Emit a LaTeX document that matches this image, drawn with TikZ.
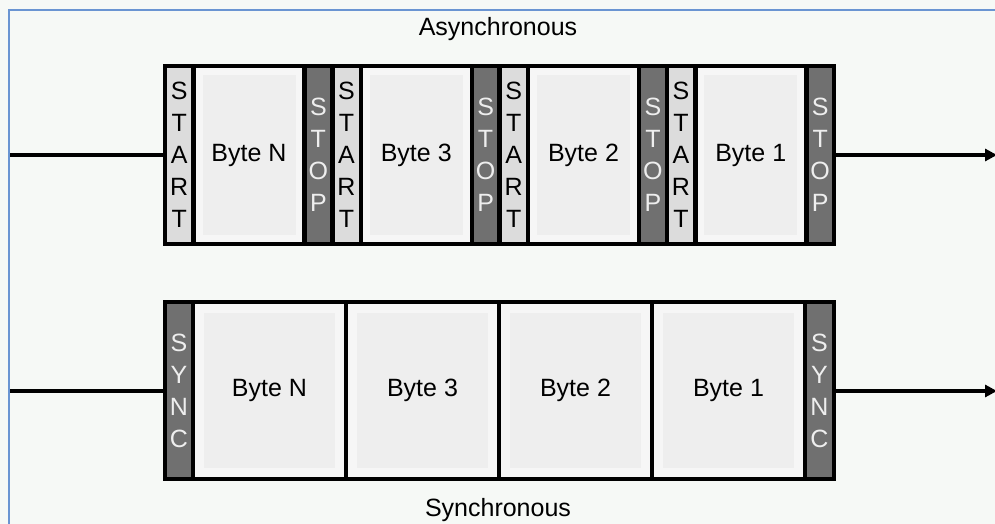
\documentclass[tikz,border=0pt]{standalone}
\usepackage{fontspec}
\setmainfont{Liberation Sans}
\usetikzlibrary{arrows.meta}
\definecolor{bgc}{HTML}{F6F9F6}
\definecolor{framec}{HTML}{6A95D2}
\definecolor{lightc}{HTML}{DCDCDC}
\definecolor{darkc}{HTML}{707070}
\definecolor{bytec}{HTML}{F6F6F6}
\definecolor{innerc}{HTML}{EEEEEE}
\definecolor{darktext}{HTML}{EEEEEE}
\tikzset{
  cell/.style={rectangle, draw=black, line width=4.5pt, inner sep=0pt, outer sep=0pt, align=center},
  lightcell/.style={cell, fill=lightc, text=black, font=\fontsize{25}{32}\selectfont},
  darkcell/.style={cell, fill=darkc, text=darktext, font=\fontsize{25}{32}\selectfont},
  bytecell/.style={cell, fill=bytec, text=black, font=\fontsize{25}{30}\selectfont},
  innerpanel/.style={fill=innerc},
  wire/.style={line width=4pt, draw=black},
  title/.style={font=\fontsize{25}{30}\selectfont, text=black, inner sep=0pt}
}
\begin{document}
\begin{tikzpicture}[x=1pt,y=-1pt]
\useasboundingbox (0,0) rectangle (995,524);
\fill[bgc] (0,0) rectangle (995,524);
\draw[framec, line width=2pt] (9,524) -- (9,10) -- (995,10);

\node[title] (asyn) at (498,29) {Asynchronous};
\node[title, anchor=base] (syn) at (498,516) {Synchronous};

% Asynchronous frame
\foreach \g/\lbl/\i in {165/N/1, 332.25/3/2, 499.5/2/3, 666.75/1/4}{
  \node[lightcell, minimum width=28.5pt, minimum height=178pt] (st\i) at (\g+14.25,155) {S\\T\\A\\R\\T};
  \node[bytecell, minimum width=111pt, minimum height=178pt] (ab\i) at (\g+84,155) {};
  \fill[innerpanel] ([shift={(9,9)}]ab\i.north west) rectangle ([shift={(-9,-9)}]ab\i.south east);
  \node[font=\fontsize{25}{30}\selectfont, inner sep=0pt] (abt\i) at (ab\i.center) {Byte \lbl};
  \node[darkcell, minimum width=27.75pt, minimum height=178pt] (sp\i) at (\g+153.375,155) {S\\T\\O\\P};
}

% Synchronous frame
\node[darkcell, minimum width=28pt, minimum height=177pt] (sy1) at (179,390.5) {S\\Y\\N\\C};
\foreach \x/\lbl/\i in {193/N/1, 346/3/2, 499/2/3, 652/1/4}{
  \node[bytecell, minimum width=153pt, minimum height=177pt] (sb\i) at (\x+76.5,390.5) {};
  \fill[innerpanel] ([shift={(11,11)}]sb\i.north west) rectangle ([shift={(-11,-11)}]sb\i.south east);
  \node[font=\fontsize{25}{30}\selectfont, inner sep=0pt] (sbt\i) at (sb\i.center) {Byte \lbl};
}
\node[darkcell, minimum width=29pt, minimum height=177pt] (sy2) at (819.5,390.5) {S\\Y\\N\\C};

% wires
\coordinate (ainA) at (10,155);
\coordinate (aoutA) at (997,155);
\coordinate (sinA) at (10,391);
\coordinate (soutA) at (997,391);
\draw[wire] (ainA) -- (ainA -| st1.west);
\draw[wire, -{Triangle[length=12pt,width=12pt]}] (sp4.east) -- (aoutA);
\draw[wire] (sinA) -- (sinA -| sy1.west);
\draw[wire, -{Triangle[length=12pt,width=12pt]}] (sinA -| sy2.east) -- (soutA);
\end{tikzpicture}
\end{document}
